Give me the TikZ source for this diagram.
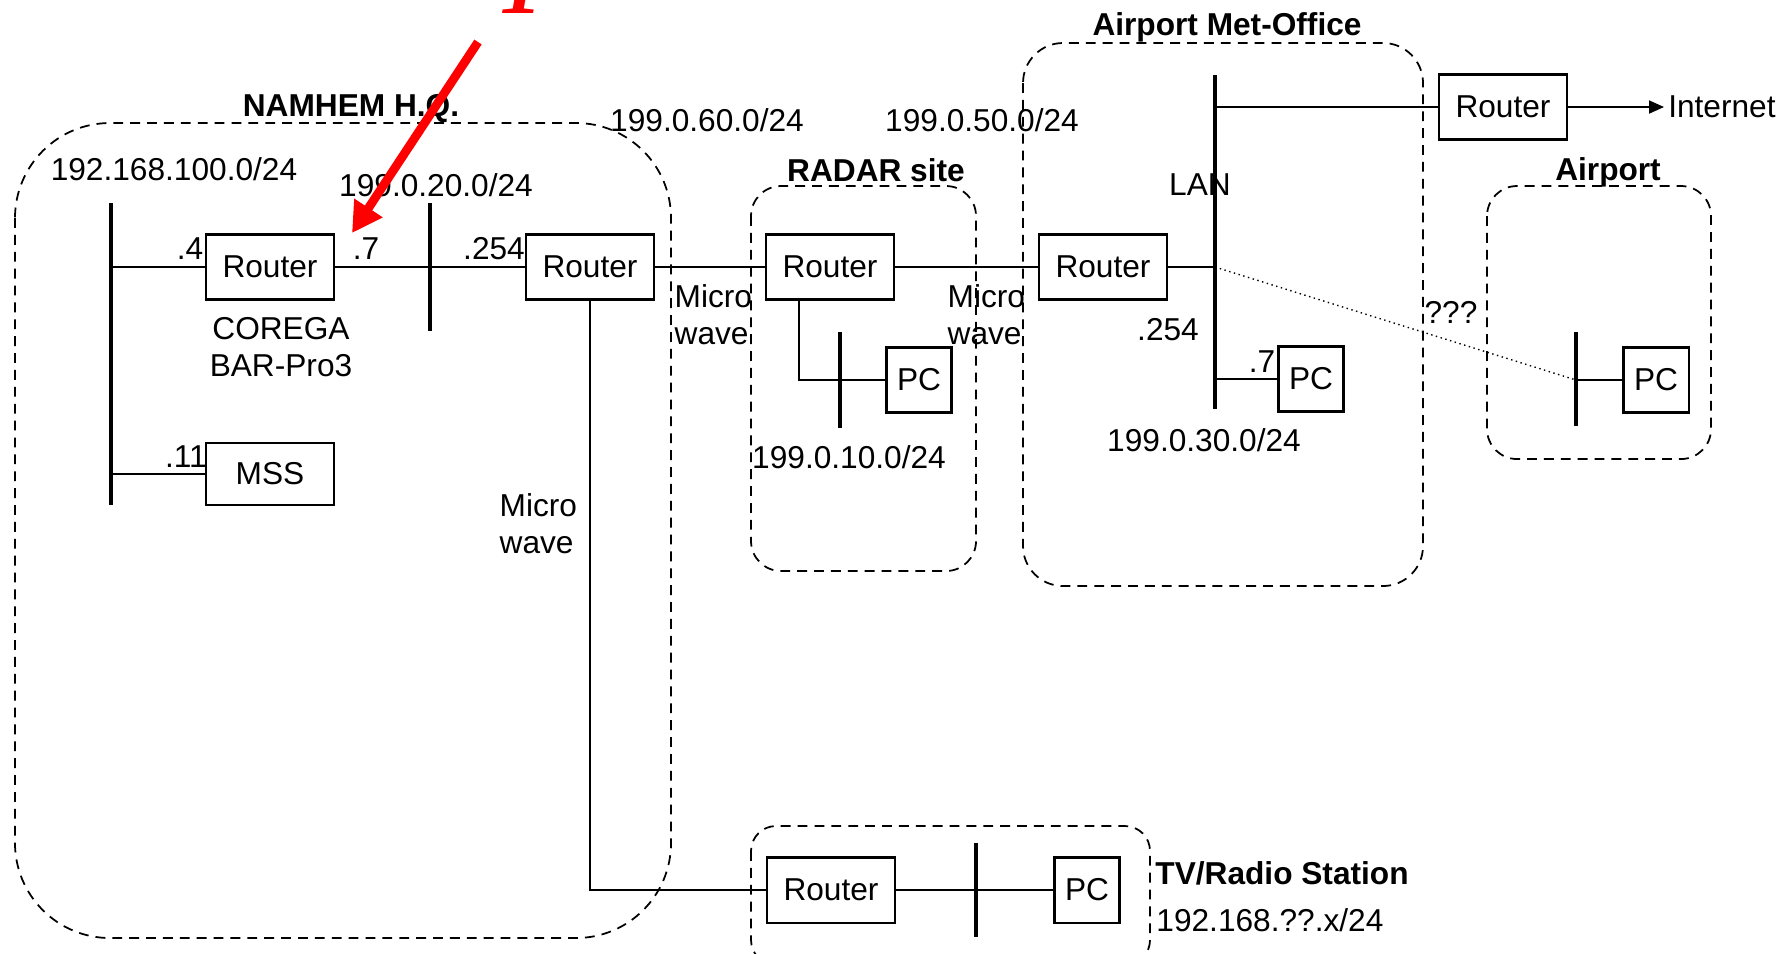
\documentclass[tikz,border=0pt]{standalone}
\usepackage{fontspec}
\setmainfont{Liberation Sans}
\newfontfamily\markfont{Liberation Serif}
\usepackage{tikz}
\usetikzlibrary{arrows.meta}
\tikzset{box/.style={draw, line width=.6pt, minimum width=1.28cm, minimum height=.65cm, inner sep=0pt},
pcbox/.style={box, minimum width=.65cm},
bus/.style={fill=black, inner sep=0pt, minimum width=.045cm},
link/.style={line width=.5pt},
site/.style={dash pattern=on 2.8pt off 2pt, line width=.5pt},
title/.style={font=\fontsize{9}{10.5}\selectfont\bfseries}}

\begin{document}
\begin{tikzpicture} [x=.01cm, y=-.01cm, font=\fontsize{9}{10.5}\selectfont]
\useasboundingbox (0,0) rectangle (1789,953);
\draw [site, rounded corners=.95cm] (15,123) rectangle (671,938);
\draw [site, rounded corners=.3cm] (751,186) rectangle (976,571);
\draw [site, rounded corners=.4cm] (1023,43) rectangle (1423,586);
\draw [site, rounded corners=.3cm] (1487,186) rectangle (1711,459);
\draw [site, rounded corners=.25cm] (751,826) rectangle (1150,965);
\node [title] (hq) at (351,109) {NAMHEM H.Q.};
\node [title] (radar) at (876,170) {RADAR site};
\node [title] (met) at (1227,27) {Airport Met-Office};
\node [title] (airport) at (1608,172) {Airport};
\node [title, anchor=west] (tv) at (1143,873) {TV/Radio Station};
\node [anchor=west] (tvnet) at (1144,920) {192.168.??.x/24};
\node [bus, minimum height=3.02cm] (lan1) at (111,354) {};
\node [bus, minimum height=1.28cm] (lan2) at (430,267) {};
\node [bus, minimum height=.95cm] (lan3) at (840,380) {};
\node [bus, minimum height=3.33cm] (lan4) at (1215,242) {};
\node [bus, minimum height=.94cm] (lan5) at (1576,379) {};
\node [bus, minimum height=.94cm] (lan6) at (976,890) {};
\node [box] (r1) at (270,267) {Router};
\node [box, minimum height=.62cm] (mss) at (270,474) {MSS};
\node [box] (r2) at (590,267) {Router};
\node [box] (r3) at (830,267) {Router};
\node [pcbox] (pc1) at (919,380) {PC};
\node [box] (r4) at (1103,267) {Router};
\node [pcbox] (pc2) at (1311,379) {PC};
\node [box] (r5) at (1503,107) {Router};
\node [anchor=west, inner xsep=1pt] (inet) at (1664,107) {Internet};
\node [pcbox] (pc3) at (1656,380) {PC};
\node [box] (tvr) at (831,890) {Router};
\node [pcbox] (tvpc) at (1087,890) {PC};
\draw [link] (lan1 |- r1) -- (r1);
\draw [link] (lan1 |- mss) -- (mss);
\draw [link] (r1) -- (r2);
\draw [link] (r2) -- (r3);
\draw [link] (r3) -- (r4);
\draw [link] (r4) -- (lan4 |- r4);
\draw [link] ([xshift=-.31cm]r3.south) |- (lan3 |- pc1) -- (pc1);
\draw [link] (lan4 |- pc2) -- (pc2);
\draw [link] (lan4 |- r5) -- (r5);
\draw [link, -{Triangle[length=.15cm, width=.13cm]}] (r5) -- (inet);
\draw [densely dotted, line width=.4pt] (lan4 |- r4) -- (lan5 |- pc3);
\draw [link] (lan5 |- pc3) -- (pc3);
\draw [link] (r2) |- (tvr);
\draw [link] (tvr) -- (tvpc);
\node (net1) at (174,169) {192.168.100.0/24};
\node (net2) at (436,185) {199.0.20.0/24};
\node (net3) at (707,120) {199.0.60.0/24};
\node (net4) at (982,120) {199.0.50.0/24};
\node (net5) at (849,457) {199.0.10.0/24};
\node (net6) at (1204,440) {199.0.30.0/24};
\node (lan) at (1200,185) {LAN};
\node (unk) at (1451,312) {???};
\node (a4) at (190,249) {.4};
\node (a7) at (366,249) {.7};
\node (a254) at (494,249) {.254};
\node (a11) at (186,457) {.11};
\node (b254) at (1168,330) {.254};
\node (b7) at (1262,362) {.7};
\node [align=center] (corega) at (281,347) {COREGA\\BAR-Pro3};
\node [anchor=west, align=left, inner sep=0pt] (mw1) at (674,315) {Micro\\wave};
\node [anchor=west, align=left, inner sep=0pt] (mw2) at (947,315) {Micro\\wave};
\node [anchor=west, align=left, inner sep=0pt] (mw3) at (499,524) {Micro\\wave};
\node [red, font=\markfont\fontsize{24}{24}\selectfont\bfseries\itshape, anchor=base] (one) at (522,13) {1};
\coordinate (tail) at (478,42);
\coordinate (tip) at (352,233);
\draw [red, line width=2.5pt, -{Triangle[length=.3cm, width=.32cm]}] (tail) -- (tip);
\end{tikzpicture}
\end{document}
